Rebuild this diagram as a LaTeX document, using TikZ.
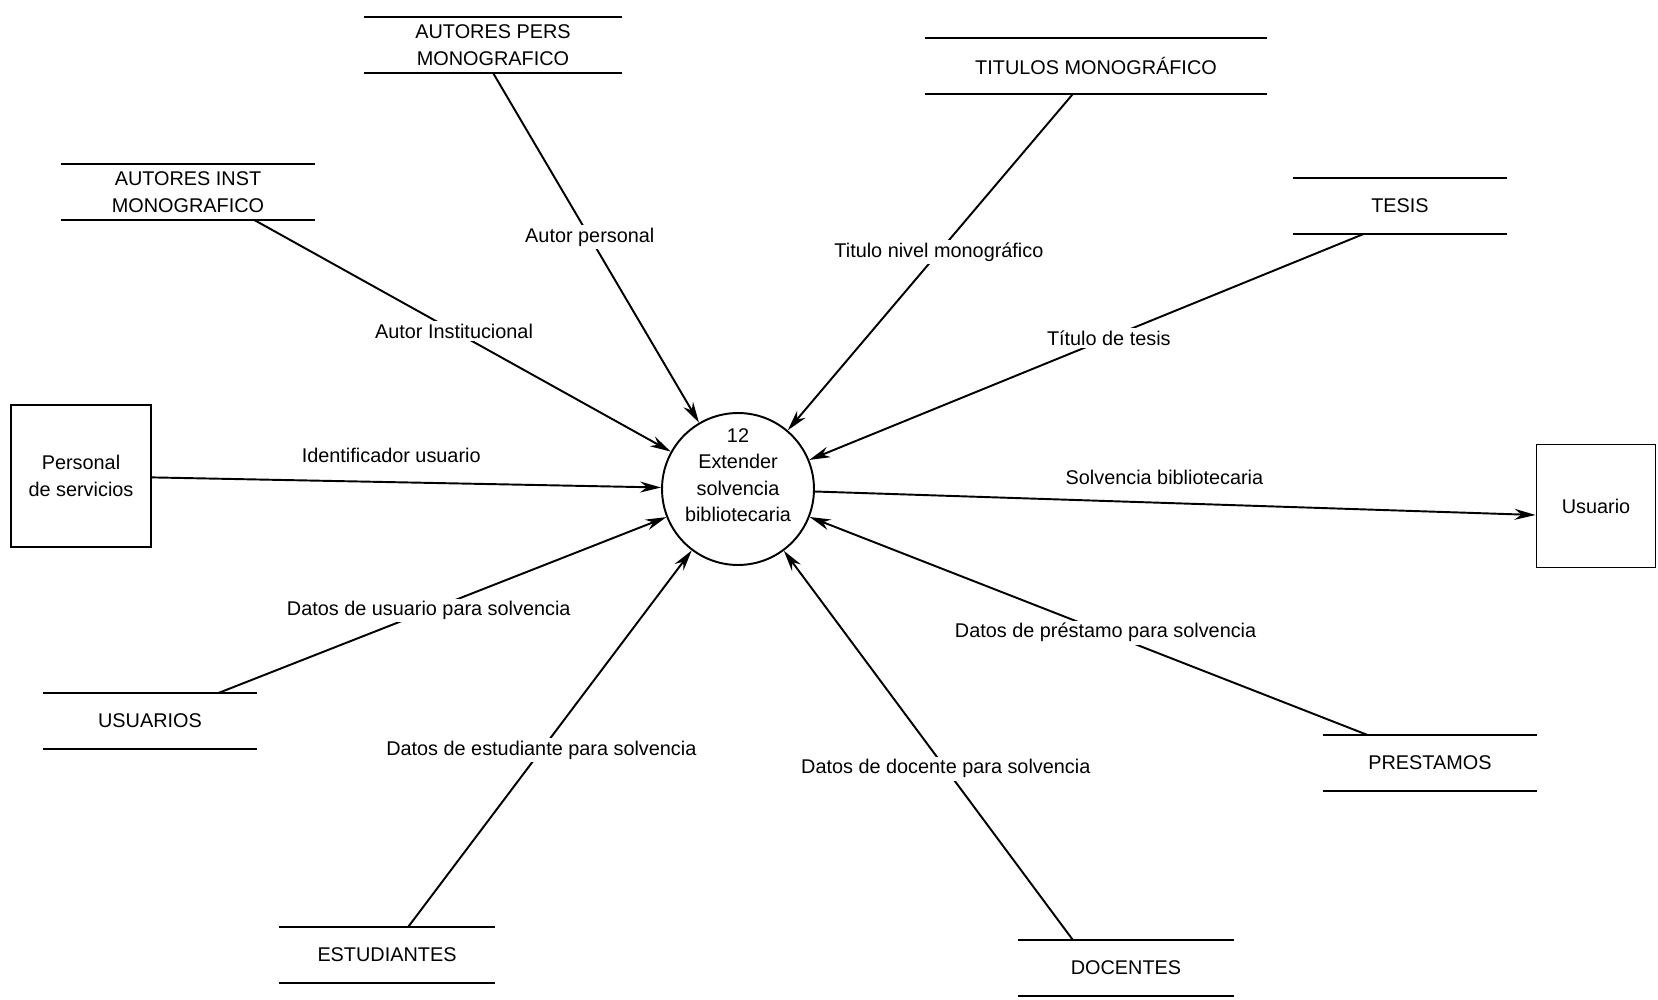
\documentclass[tikz,border=0pt]{standalone}
\usepackage{fontspec}
\setmainfont{Liberation Sans}
\usepackage{tikz}
\usetikzlibrary{arrows.meta,calc,positioning}
\tikzset{
  every node/.style={font=\fontsize{11.3pt}{15pt}\selectfont},
  % entidades externas y proceso
  entidad/.style={rectangle,draw,line width=1.1pt,align=center},
  proceso/.style={circle,draw,line width=1.1pt,minimum size=3.04cm},
  % almacenes de datos: solo las dos rayas horizontales
  almacen/.style={rectangle,draw=none,minimum height=1.1cm,align=center,
    inner sep=2pt,
    append after command={
      (\tikzlastnode.north west) edge[draw=black,line width=1.1pt,-] (\tikzlastnode.north east)
      (\tikzlastnode.south west) edge[draw=black,line width=1.1pt,-] (\tikzlastnode.south east)}},
  flujo/.style={-{Stealth[length=4.2mm,width=2.2mm]},line width=1.1pt},
  etiq/.style={fill=white,inner sep=1.5pt,pos=0.47}
}
\begin{document}
\begin{tikzpicture}[x=0.02cm,y=-0.02cm]
  \useasboundingbox (0,0) rectangle (1658,1000);

  \node[proceso,label={[align=center,yshift=0.28cm]center:12\\Extender\\solvencia\\bibliotecaria}] (c) at (738,489) {};

  \node[entidad,minimum width=2.8cm,minimum height=2.84cm] (per) at (81,476) {Personal\\de servicios};
  \node[entidad,minimum width=2.38cm,minimum height=2.46cm] (usr) at (1596,506) {Usuario};

  \node[almacen,minimum width=5.14cm] (ap) at (493,45) {AUTORES PERS\\MONOGRAFICO};
  \node[almacen,minimum width=6.82cm] (tm) at (1096,66) {TITULOS MONOGRÁFICO};
  \node[almacen,minimum width=5.08cm] (ai) at (188,192) {AUTORES INST\\MONOGRAFICO};
  \node[almacen,minimum width=4.26cm] (te) at (1400,206) {TESIS};
  \node[almacen,minimum width=4.26cm] (us) at (150,721) {USUARIOS};
  \node[almacen,minimum width=4.3cm] (es) at (387,955) {ESTUDIANTES};
  \node[almacen,minimum width=4.3cm] (dc) at (1126,968) {DOCENTES};
  \node[almacen,minimum width=4.26cm] (pr) at (1430,763) {PRESTAMOS};

  \draw[flujo] (ap.south) -- node[etiq] {Autor personal} (c);
  \draw[flujo] ($(tm.south)+(-23,0)$) -- node[etiq] {Titulo nivel monográfico} (c);
  \draw[flujo] ($(ai.south)+(66,0)$) -- node[etiq,pos=0.48] {Autor Institucional} (c);
  \draw[flujo] ($(te.south)+(-36,0)$) -- node[etiq,pos=0.46] {Título de tesis} (c);
  \draw[flujo] (per) -- node[above=0.25cm,pos=0.47] {Identificador usuario} (c);
  \draw[flujo] (c) -- node[above=0.22cm,pos=0.485] {Solvencia bibliotecaria} ($(usr.west)+(0,9)$);
  \draw[flujo] ($(us.north)+(68,0)$) -- node[etiq] {Datos de usuario para solvencia} (c);
  \draw[flujo] ($(es.north)+(21,0)$) -- node[etiq] {Datos de estudiante para solvencia} (c);
  \draw[flujo] ($(dc.north)+(-53,0)$) -- node[etiq,pos=0.44] {Datos de docente para solvencia} (c);
  \draw[flujo] ($(pr.north)+(-62,0)$) -- node[etiq] {Datos de préstamo para solvencia} (c);
\end{tikzpicture}
\end{document}
